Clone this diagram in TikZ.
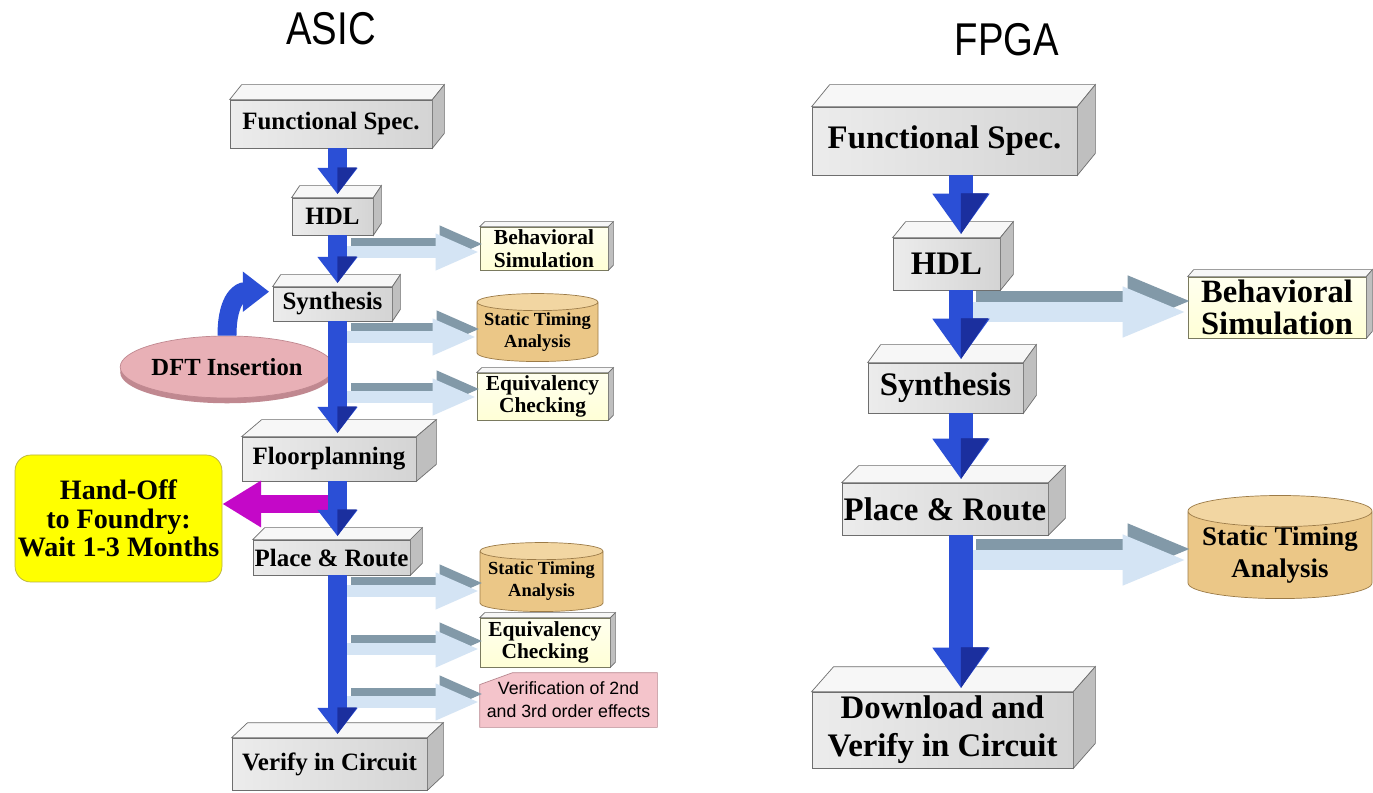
\documentclass[tikz,border=0pt]{standalone}
\usepackage{fontspec}
\setmainfont{Liberation Serif}
\newfontfamily\arialfont{Liberation Sans}
\usetikzlibrary{arrows.meta,positioning,calc,shapes.geometric,backgrounds}
\definecolor{FlowBlue}{HTML}{2B4FD6}
\definecolor{FlowDark}{HTML}{1B2F9E}
\definecolor{SideBlue}{HTML}{D4E4F4}
\definecolor{SideGray}{HTML}{8299A8}
\definecolor{MarbleLight}{HTML}{ECECEC}
\definecolor{MarbleDark}{HTML}{D4D4D4}
\definecolor{SlabEdge}{HTML}{6E6E6E}
\definecolor{Cream}{HTML}{FFFFD6}
\definecolor{CreamEdge}{HTML}{7A7A5E}
\definecolor{Tan}{HTML}{EBC787}
\definecolor{TanTop}{HTML}{F2D6A2}
\definecolor{TanEdge}{HTML}{9C7B47}
\definecolor{Rose}{HTML}{F4C4CB}
\definecolor{RoseEdge}{HTML}{B88890}
\definecolor{DftPink}{HTML}{E8B0B6}
\definecolor{DftEdge}{HTML}{C08890}
\definecolor{HandYellow}{HTML}{FFFF00}
\definecolor{HandEdge}{HTML}{B8B040}
\definecolor{Magenta}{HTML}{C408C8}

\begin{document}
\begin{tikzpicture}[x=0.02cm,y=-0.02cm,
  wh/.style 2 args={minimum width=#1*0.02cm,minimum height=#2*0.02cm},
  slab/.style={draw=SlabEdge,left color=MarbleLight,right color=MarbleDark,inner sep=0pt,align=center},
  asic/.style={slab,font=\bfseries\fontsize{14.2}{16}\selectfont},
  fpga/.style={slab,font=\bfseries\fontsize{18.7}{21.5}\selectfont},
  cream/.style={draw=CreamEdge,top color=white!60!Cream,bottom color=Cream,inner sep=0pt,align=center,font=\bfseries\fontsize{12.2}{12.8}\selectfont},
  disk/.style={cylinder,shape border rotate=90,aspect=0.16,draw=TanEdge,cylinder uses custom fill,cylinder body fill=Tan,cylinder end fill=TanTop,inner sep=0pt,align=center,font=\bfseries\fontsize{10.5}{12.5}\selectfont},
  verif/.style={inner sep=0pt,align=center,font=\arialfont\fontsize{10.1}{13}\selectfont},
  verifback/.style={draw=RoseEdge,fill=Rose},
  dftdisk/.style={ellipse,draw=DftEdge,fill=DftPink,preaction={fill=DftEdge,transform canvas={yshift=-3pt}},inner sep=0pt,font=\bfseries\fontsize{14}{16}\selectfont},
  handoff/.style={draw=HandEdge,fill=HandYellow,rounded corners=9pt,inner sep=0pt,align=center,font=\bfseries\fontsize{16}{16.2}\selectfont},
  title/.style={font=\arialfont\fontsize{21.8}{24}\selectfont},
  slabtop/.style={draw=SlabEdge,fill=black!3},
  slabside/.style={draw=SlabEdge,fill=black!25},
  aflow/.style={line width=10.8pt,draw=FlowBlue,shorten >=2pt,-{Triangle[width=22pt,length=15pt]}},
  ashade/.style={line width=0.2pt,draw=FlowBlue,shorten >=2pt,-{Triangle[harpoon,width=22pt,length=15pt,color=FlowDark]}},
  fflow/.style={line width=13.6pt,draw=FlowBlue,shorten >=2pt,-{Triangle[width=31pt,length=23pt]}},
  fshade/.style={line width=0.2pt,draw=FlowBlue,shorten >=2pt,-{Triangle[harpoon,width=31pt,length=23pt,color=FlowDark]}},
  aside/.style={line width=6.8pt,draw=SideBlue,-{Triangle[width=19pt,length=25pt]}},
  agray/.style={aside,draw=SideGray},
  fside/.style={line width=11.3pt,draw=SideBlue,-{Triangle[width=26pt,length=37pt]}},
  fgray/.style={fside,draw=SideGray},
  handarr/.style={line width=10.8pt,draw=Magenta,-{Triangle[width=25pt,length=22pt]}}
]
\begin{scope}[on background layer]
\fill[white] (0,0) rectangle (1373,793);
\end{scope}
\useasboundingbox (0,0) rectangle (1373,793);

% titles
\node[title] (tasic) at (331,28.5) {\scalebox{1}[1.2]{ASIC}};
\node[title] (tfpga) at (1007,40) {\scalebox{1}[1.2]{FPGA}};

% ASIC flow
\coordinate (acol) at (337.5,0);
\node[asic,wh={202}{48}] (afs) at (331,124) {Functional Spec.};
\node[asic,wh={81}{37}] (ahdl) at (332.5,216.5) {HDL};
\node[asic,wh={119}{34}] (asyn) at (332.5,304) {Synthesis};
\node[asic,wh={174}{44}] (afp) at (329,459) {Floorplanning};
\node[asic,wh={157}{35}] (apr) at (331.5,557.5) {Place \& Route};
\node[asic,wh={195}{52}] (aver) at (329.5,764) {Verify in Circuit};

\node[cream,wh={128}{43}] (absim) at (544,248.5) {Behavioral\\Simulation};
\node[disk,wh={121}{68}] (asta1) at (537.5,332) {Static Timing\\Analysis};
\node[cream,wh={131}{47}] (aeq1) at (542.5,396.5) {Equivalency\\Checking};
\node[disk,wh={123}{69}] (asta2) at (541.5,581.5) {Static Timing\\Analysis};
\node[cream,wh={130}{49}] (aeq2) at (545,642.5) {Equivalency\\Checking};
\node[verif,wh={177}{54}] (aver2) at (568.5,700) {Verification of 2nd\\and 3rd order effects};
\node[dftdisk,wh={190}{62}] (dft) at (227,367) {DFT Insertion};
\node[handoff,wh={207}{127}] (hand) at (118.5,518.5) {Hand-Off\\to Foundry:\\Wait 1-3 Months};

% FPGA flow
\coordinate (fcol) at (961,0);
\node[fpga,wh={265}{68}] (ffs) at (944.5,141) {Functional Spec.};
\node[fpga,wh={107}{52}] (fhdl) at (946.5,264) {HDL};
\node[fpga,wh={155}{50}] (fsyn) at (945.5,388) {Synthesis};
\node[fpga,wh={206}{52}] (fpr) at (945,509) {Place \& Route};
\node[fpga,wh={261}{76}] (fdl) at (942.5,730) {Download and\\Verify in Circuit};

\node[cream,wh={178}{61},font=\bfseries\fontsize{18.5}{18.5}\selectfont] (fbsim) at (1277,307.5) {Behavioral\\Simulation};
\node[disk,aspect=0.2,wh={184}{81},font=\bfseries\fontsize{15.3}{18}\selectfont] (fsta) at (1280,555) {Static Timing\\Analysis};

% box depth
\foreach \n/\dx/\dy in {afs/12/15,ahdl/8/12,asyn/8/12,afp/20/17,apr/12/12,aver/16/15,absim/5/5,aeq1/5/5,aeq2/5/5,
                        ffs/18/22,fhdl/13/16,fsyn/13/18,fpr/17/17,fdl/22/25,fbsim/6/7}{
  \draw[slabtop] (\n.north west) -- ++(\dx,-\dy) -- ($(\n.north east)+(\dx,-\dy)$) -- (\n.north east) -- cycle;
  \draw[slabside] (\n.north east) -- ++(\dx,-\dy) -- ($(\n.south east)+(\dx,-\dy)$) -- (\n.south east) -- cycle;
}
\begin{scope}[on background layer]
\draw[verifback] ($(aver2.north west)+(0,12)$) -- ($(aver2.north west)+(33,0)$) -- (aver2.north east)
  -- (aver2.south east) -- (aver2.south west) -- cycle;
\end{scope}

% checks off the main flow
\coordinate (s1) at (345,252);
\coordinate (s2) at (345,337);
\coordinate (s3) at (345,397);
\coordinate (s4) at (345,591);
\coordinate (s5) at (345,649);
\coordinate (s6) at (345,702);
\foreach \s/\t in {s1/absim,s2/asta1,s3/aeq1,s4/asta2,s5/aeq2,s6/aver2}{
  \draw[agray] ($(\s)+(6,-8)$) -- ($(\s -| \t.west)+(4,-8)$);
  \draw[aside] (\s) -- (\s -| \t.west);
}
\coordinate (f1) at (968,312);
\coordinate (f2) at (968,560);
\foreach \s/\t in {f1/fbsim,f2/fsta}{
  \draw[fgray] ($(\s)+(8,-11)$) -- ($(\s -| \t.west)+(5,-11)$);
  \draw[fside] (\s) -- (\s -| \t.west);
}

% hand-off and DFT loop
\coordinate (hx) at (332,504);
\draw[handarr] (hx) -- (hx -| hand.east);
\draw[aflow] (dft.north) .. controls +(0,-40) and +(-30,0) .. ([yshift=7pt]asyn.west);

% main arrows
\foreach \a/\b in {afs/ahdl,ahdl/asyn,asyn/afp,afp/apr,apr/aver}{
  \draw[aflow] (\a.south -| acol) -- (\b.north -| acol);
  \draw[ashade] (\a.south -| acol) -- (\b.north -| acol);
}
\foreach \a/\b in {ffs/fhdl,fhdl/fsyn,fsyn/fpr,fpr/fdl}{
  \draw[fflow] (\a.south -| fcol) -- (\b.north -| fcol);
  \draw[fshade] (\a.south -| fcol) -- (\b.north -| fcol);
}
\end{tikzpicture}
\end{document}
